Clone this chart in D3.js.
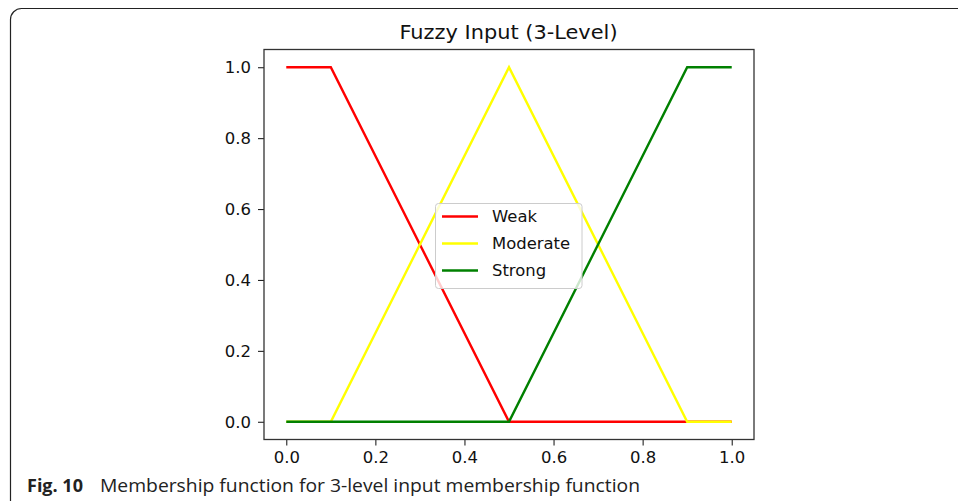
<!DOCTYPE html>
<html>
<head>
<meta charset="utf-8">
<script src="https://cdn.jsdelivr.net/npm/d3@7"></script>
<style>
  html, body { margin: 0; padding: 0; background: #fff; }
  svg { display: block; }
</style>
</head>
<body>
<svg id="chart" width="958" height="501"></svg>
<script>
const titleText = "Fuzzy Input (3-Level)";
const seriesNames = ["Weak", "Moderate", "Strong"];
const seriesColors = ["#ff0000", "#ffff00", "#008000"];
const weakX = [0.0, 0.1, 0.5, 1.0];
const weakY = [1.0, 1.0, 0.0, 0.0];
const moderateX = [0.0, 0.1, 0.5, 0.9, 1.0];
const moderateY = [0.0, 0.0, 1.0, 0.0, 0.0];
const strongX = [0.0, 0.5, 0.9, 1.0];
const strongY = [0.0, 0.0, 1.0, 1.0];
const xTicks = [0.0, 0.2, 0.4, 0.6, 0.8, 1.0];
const yTicks = [0.0, 0.2, 0.4, 0.6, 0.8, 1.0];
const captionBold = "Fig. 10";
const captionText = "Membership function for 3-level input membership function";

const svg = d3.select("#chart");
const STRETCH = 1.1;
function stretch(sel, factor) {
  sel.each(function () {
    const w = this.getComputedTextLength();
    d3.select(this).attr("textLength", w * factor).attr("lengthAdjust", "spacingAndGlyphs");
  });
}

// figure frame
svg.append("rect")
  .attr("x", 10.5).attr("y", 8.5)
  .attr("width", 1000).attr("height", 600)
  .attr("rx", 11).attr("ry", 11)
  .attr("fill", "none").attr("stroke", "#222").attr("stroke-width", 1.2);

const L = 264, R = 754, T = 49.5, B = 439.5;
const x = d3.scaleLinear().domain([-0.05, 1.05]).range([L, R]);
const y = d3.scaleLinear().domain([-0.05, 1.05]).range([B, T]);

const font = "DejaVu Sans, sans-serif";

// series
const series = [
  { name: seriesNames[0], xs: weakX, ys: weakY, color: seriesColors[0] },
  { name: seriesNames[1], xs: moderateX, ys: moderateY, color: seriesColors[1] },
  { name: seriesNames[2], xs: strongX, ys: strongY, color: seriesColors[2] }
];
const line = d3.line().x(d => x(d[0])).y(d => y(d[1]));
series.forEach(s => {
  svg.append("path")
    .datum(s.xs.map((v, i) => [v, s.ys[i]]))
    .attr("d", line)
    .attr("fill", "none")
    .attr("stroke", s.color)
    .attr("stroke-width", 2.4)
    .attr("stroke-linejoin", "miter");
});

// axes
const xAxis = svg.append("g").attr("transform", `translate(0,${B})`)
  .call(d3.axisBottom(x).tickValues(xTicks).tickFormat(d3.format(".1f")).tickSize(6).tickPadding(5));
const yAxis = svg.append("g").attr("transform", `translate(${L},0)`)
  .call(d3.axisLeft(y).tickValues(yTicks).tickFormat(d3.format(".1f")).tickSize(6).tickPadding(7));
[xAxis, yAxis].forEach(g => {
  g.select(".domain").remove();
  g.selectAll("line").attr("stroke", "#222").attr("stroke-width", 1.1);
  g.selectAll("text").attr("font-family", font).attr("font-size", 15).attr("fill", "#111");
});
xAxis.selectAll("text").attr("y", 23.5).attr("dy", 0);
yAxis.selectAll("text").attr("dy", "0.36em");
stretch(xAxis.selectAll("text"), STRETCH);
stretch(yAxis.selectAll("text"), STRETCH);

// spines
svg.append("rect")
  .attr("x", L).attr("y", T).attr("width", R - L).attr("height", B - T)
  .attr("fill", "none").attr("stroke", "#333").attr("stroke-width", 1.3);

// title
const title = svg.append("text")
  .attr("x", (L + R) / 2 - 0.5).attr("y", 38.5)
  .attr("text-anchor", "middle")
  .attr("font-family", font).attr("font-size", 19).attr("fill", "#111")
  .text(titleText);
stretch(title, STRETCH);

// legend
const lg = svg.append("g");
lg.append("rect")
  .attr("x", 435.5).attr("y", 203.5).attr("width", 146.5).attr("height", 85)
  .attr("rx", 3).attr("ry", 3)
  .attr("fill", "rgba(255,255,255,0.8)").attr("stroke", "#ccc").attr("stroke-width", 1);
series.forEach((s, i) => {
  const yy = 216.5 + i * 27;
  lg.append("line").attr("x1", 442).attr("x2", 478).attr("y1", yy).attr("y2", yy)
    .attr("stroke", s.color).attr("stroke-width", 2.4);
  const t = lg.append("text").attr("x", 492).attr("y", yy).attr("dy", "0.36em")
    .attr("font-family", font).attr("font-size", 15.5).attr("fill", "#111")
    .text(s.name);
  stretch(t, 1.06);
});

// caption
svg.append("text")
  .attr("x", 27).attr("y", 492)
  .attr("font-family", "Open Sans, sans-serif").attr("font-size", 18).attr("font-weight", "bold").attr("fill", "#222")
  .text(captionBold);
svg.append("text")
  .attr("x", 100).attr("y", 492)
  .attr("font-family", "Open Sans, sans-serif").attr("font-size", 18).attr("fill", "#222")
  .attr("textLength", 540).attr("lengthAdjust", "spacingAndGlyphs")
  .text(captionText);
</script>
</body>
</html>
